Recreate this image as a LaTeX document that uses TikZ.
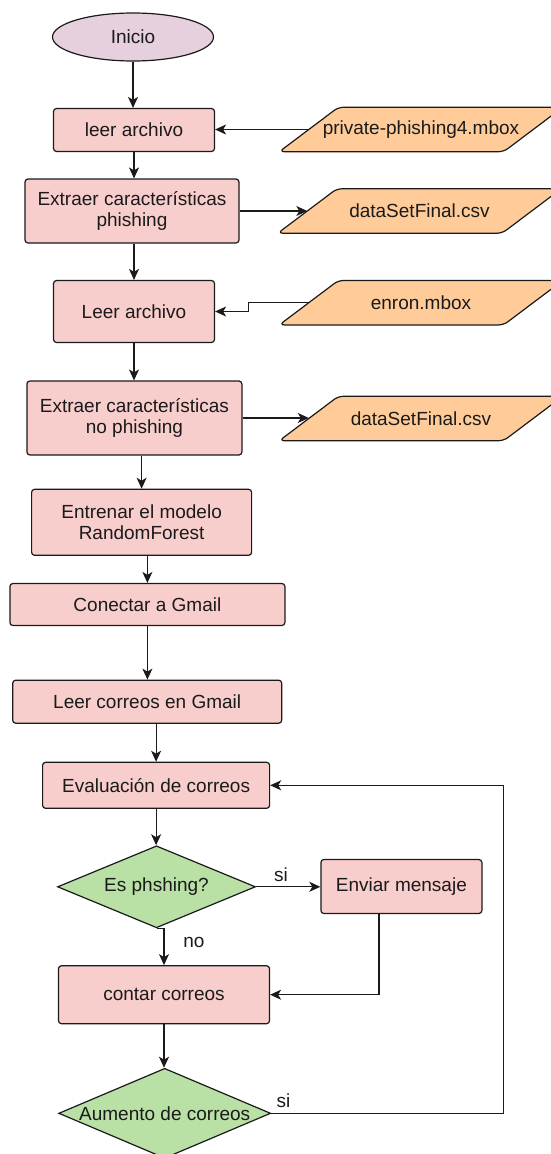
\documentclass[tikz,border=0pt]{standalone}
\usepackage{fontspec}
\setmainfont{Liberation Sans}
\usetikzlibrary{arrows.meta,shapes.geometric,backgrounds,calc}

\definecolor{procfill}{HTML}{F8CECC}
\definecolor{datafill}{HTML}{FFCC99}
\definecolor{startfill}{HTML}{E6D0DE}
\definecolor{decfill}{HTML}{B9E0A5}
\definecolor{ink}{HTML}{1A1A1A}

\tikzset{
  every node/.style={font=\fontsize{19}{21.5}\selectfont, text=ink},
  outline/.style={draw=ink, line width=1.2pt},
  startst/.style={outline, ellipse, fill=startfill, inner sep=0pt,
    minimum width=161pt, minimum height=48pt},
  proc/.style={outline, rectangle, fill=procfill, rounded corners=3pt,
    align=center, inner sep=0pt},
  decision/.style={outline, diamond, fill=decfill, inner sep=0pt},
  datatext/.style={rectangle, inner sep=0pt, minimum width=224pt, minimum height=44pt},
  datashape/.style={outline, fill=datafill, rounded corners=5pt},
  arr/.style={draw=ink, line width=1.2pt, -{Stealth[length=11pt,width=10pt,inset=3pt]}},
}

% slanted data symbol drawn behind a named text node
\newcommand{\dataframe}[1]{%
  \begin{scope}[on background layer]
    \draw[datashape] ([xshift=-29.5pt]#1.south west) -- ([xshift=-29.5pt]#1.south east)
      -- ([xshift=29.5pt]#1.north east) -- ([xshift=29.5pt]#1.north west) -- cycle;
  \end{scope}}

\begin{document}
\begin{tikzpicture}[x=1pt, y=-1pt]
\useasboundingbox (0,0) rectangle (550,1154);
\clip (0,0) rectangle (550,1154);

% nodes
\node[startst] (ini) at (133,37) {Inicio};
\node[proc, minimum width=161pt, minimum height=43pt] (l1) at (134,130) {leer archivo};
\node[datatext] (f1) at (421,129.5) {private-phishing4.mbox};
\dataframe{f1}
\node[proc, minimum width=214pt, minimum height=64pt] (ex1) at (132,211) {Extraer características\\phishing};
\node[datatext] (f2) at (419.5,211) {dataSetFinal.csv};
\dataframe{f2}
\node[proc, minimum width=161pt, minimum height=62pt] (l2) at (134,311.5) {Leer archivo};
\node[datatext] (f3) at (421,302.7) {enron.mbox};
\dataframe{f3}
\node[proc, minimum width=215pt, minimum height=74pt] (ex2) at (134.4,418) {Extraer características\\no phishing};
\node[datatext] (f4) at (421,418.5) {dataSetFinal.csv};
\dataframe{f4}
\node[proc, minimum width=220pt, minimum height=66pt] (ent) at (141.6,522.3) {Entrenar el modelo\\RandomForest};
\node[proc, minimum width=275pt, minimum height=42pt] (con) at (147.4,604.5) {Conectar a Gmail};
\node[proc, minimum width=269pt, minimum height=43pt] (lc) at (147.2,701.7) {Leer correos en Gmail};
\node[proc, minimum width=227pt, minimum height=46pt] (ev) at (156.1,785.3) {Evaluación de correos};
\node[decision, minimum width=198pt, minimum height=82pt] (d1) at (156.5,886.8) {};
\node (d1t) at (d1) {Es phshing?};
\node[proc, minimum width=161pt, minimum height=54pt] (env) at (401.4,886.5) {Enviar mensaje};
\node[proc, minimum width=211pt, minimum height=58pt] (cc) at (164,994.7) {contar correos};
\node[decision, minimum width=212pt, minimum height=90pt] (d2) at (164.7,1113.3) {};
\node (d2t) at (d2) {Aumento de correos};

% connectors
\draw[arr] (ini.south) -- (ini.south |- l1.north);
\draw[arr] (f1.west) -- (f1.west -| l1.east);
\draw[arr] (l1.south) -- (l1.south |- ex1.north);
\draw[arr] (ex1.east) -- (ex1.east -| f2.west);
\draw[arr] (ex1.south -| l2.north) -- (l2.north);
\draw[arr] (f3.west) -- ++(-60,0) |- (l2.east);
\draw[arr] (l2.south) -- (l2.south |- ex2.north);
\draw[arr] (ex2.east) -- (ex2.east -| f4.west);
\draw[arr] (ex2.south -| ent.north) -- (ent.north);
\draw[arr] (ent.south -| con.north) -- (con.north);
\draw[arr] (con.south) -- (con.south |- lc.north);
\draw[arr] (lc.south -| ev.north) -- (ev.north);
\draw[arr] (ev.south) -- (ev.south |- d1.north);
\draw[arr] (d1.east) -- (d1.east -| env.west);
\node (si1) at (281,875) {si};
\draw[arr] (d1.south) -| (cc.north);
\node (no1) at (194,942) {no};
\draw[arr] ([xshift=-22.4pt]env.south) |- (cc.east);
\draw[arr] (cc.south) -- (cc.south |- d2.north);
\draw[arr] (d2.east) -- ++(232,0) |- (ev.east);
\node (si2) at (283.5,1100.7) {si};
\end{tikzpicture}
\end{document}
